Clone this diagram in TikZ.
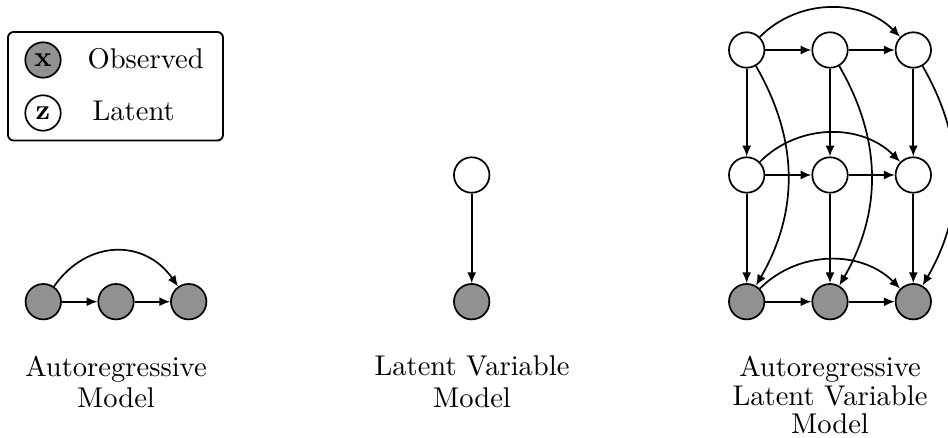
\documentclass[tikz,border=0pt]{standalone}
\usetikzlibrary{arrows.meta}
\definecolor{obsfill}{RGB}{145,145,145}
\begin{document}
\begin{tikzpicture}[x=0.35pt,y=-0.35pt,
  var/.style={circle,draw,line width=0.6pt,minimum size=12.4pt,inner sep=0pt},
  obs/.style={var,fill=obsfill},
  lat/.style={var,fill=white},
  edge/.style={line width=0.6pt,-{Latex[length=3.8pt,width=3.2pt]}},
  caption/.style={align=center,inner sep=0pt,anchor=north,font=\fontsize{10}{11}\selectfont},
  legtext/.style={inner sep=0pt,anchor=base west}]
\useasboundingbox (0,0) rectangle (948,438);

% legend
\draw[line width=0.65pt,rounded corners=2pt] (8,32) rectangle (223,140.5);
\node[obs] (lx) at (43,60) {\textbf{x}};
\node[lat] (lz) at (43,113) {\textbf{z}};
\node[legtext] (lobs) at (87,68) {Observed};
\node[legtext] (llat) at (92,121) {Latent};

% autoregressive model
\node[obs] (a1) at (43.3,301.7) {};
\node[obs] (a2) at (116,301.7) {};
\node[obs] (a3) at (188.7,301.7) {};
\draw[edge] (a1) -- (a2);
\draw[edge] (a2) -- (a3);
\draw[edge] (a1) to[out=55,in=125,looseness=1.2] (a3);
\node[caption] (capa) at (116,355.5) {Autoregressive\\Model};

% latent variable model
\node[lat] (lvz) at (471.7,175) {};
\node[obs] (lvx) at (471.7,301.7) {};
\draw[edge] (lvz) -- (lvx);
\node[caption] (capb) at (472,355.5) {Latent Variable\\Model};

% autoregressive latent variable model
\node[lat] (z11) at (746.7,50) {};
\node[lat] (z12) at (830,50) {};
\node[lat] (z13) at (913.3,50) {};
\node[lat] (z21) at (746.7,175) {};
\node[lat] (z22) at (830,175) {};
\node[lat] (z23) at (913.3,175) {};
\node[obs] (x1) at (746.7,301.7) {};
\node[obs] (x2) at (830,301.7) {};
\node[obs] (x3) at (913.3,301.7) {};

\foreach \r in {z1,z2,x}{
  \draw[edge] (\r1) -- (\r2);
  \draw[edge] (\r2) -- (\r3);
}
\draw[edge] (z11) to[bend left=45] (z13);
\draw[edge] (z21) to[bend left=45] (z23);
\draw[edge] (x1) to[bend left=45] (x3);
\foreach \c in {1,2,3}{
  \draw[edge] (z1\c) -- (z2\c);
  \draw[edge] (z2\c) -- (x\c);
  \draw[edge] (z1\c) to[bend left=30] (x\c);
}
\node[caption,font=\fontsize{10}{10}\selectfont] (capc) at (830,355.5) {Autoregressive\\Latent Variable\\Model};
\end{tikzpicture}
\end{document}
